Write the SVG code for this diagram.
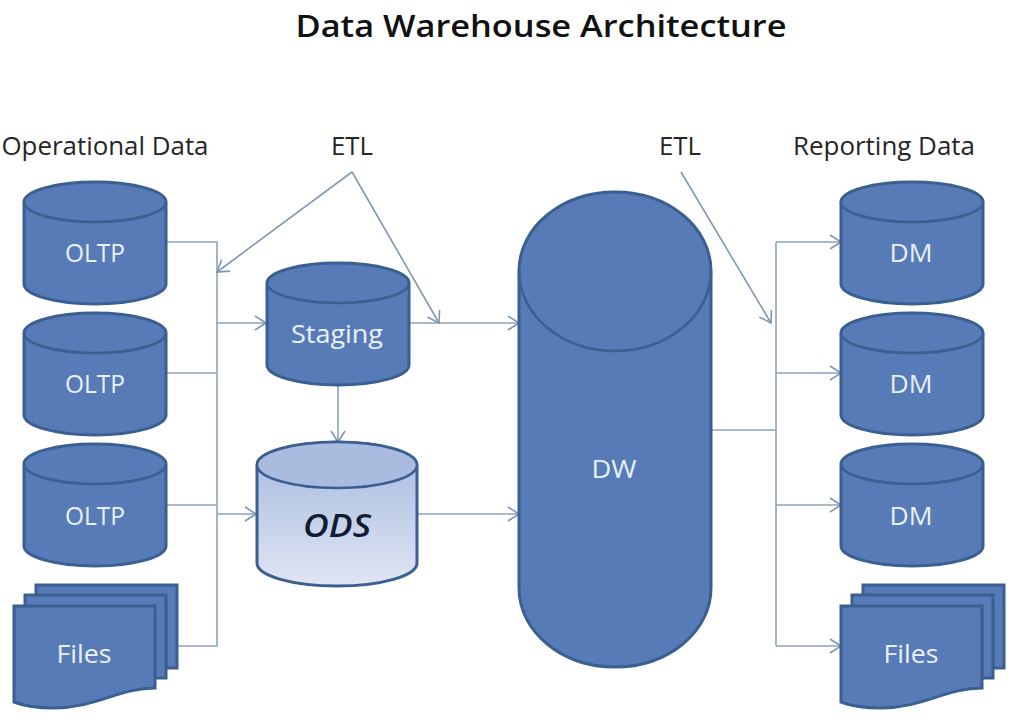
<svg xmlns="http://www.w3.org/2000/svg" width="1027" height="722" viewBox="0 0 1027 722">
<style>
text{font-family:"Open Sans","Noto Sans","Liberation Sans",sans-serif;text-anchor:middle}
.d{fill:#567bb7;stroke:#3a5f90;stroke-width:3}
.t{fill:none;stroke:#3a5f90;stroke-width:2.6}
.c{fill:none;stroke:#8ea3bb;stroke-width:1.6}
.a{marker-end:url(#arr)}
.e{fill:none;stroke:#8397b2;stroke-width:1.6;marker-end:url(#arr)}
.w{fill:#eaf0f7;font-size:26px}
.k{fill:#262626;font-size:25px}
</style>
<defs>
<marker id="arr" markerUnits="userSpaceOnUse" markerWidth="16" markerHeight="16" refX="13" refY="7" orient="auto" overflow="visible">
<path d="M2 0L13 7L2 14" fill="none" stroke="#7f96b4" stroke-width="1.6"/>
</marker>
<linearGradient id="ods" x1="0" y1="0" x2="0" y2="1"><stop offset="0" stop-color="#a5b9df"/><stop offset="1" stop-color="#e0e5f3"/></linearGradient>
<path id="cyl" d="M-71 -41V41C-71 52 -39 61 0 61S71 52 71 41V-41C71 -52 39 -61 0 -61S-71 -52 -71 -41Z" class="d"/>
<path id="cylt" d="M-71 -41C-71 -30 -39 -21 0 -21S71 -30 71 -41" class="t"/>
<g id="stack">
<path class="d" d="M22 0H163V83H152V20H22Z"/>
<path class="d" d="M11 10H152V93H141V30H11Z"/>
<path class="d" d="M0 21H141V103C105 103 82 123 40 123C25 123 10 121 0 117Z"/>
</g>
</defs>
<rect width="1027" height="722" fill="#fff"/>

<g id="connectors">
<path class="c" d="M166 242H217V646H177"/>
<path class="c" d="M166 373H216"/>
<path class="c" d="M166 505H216"/>
<path class="c a" d="M217 323H266"/>
<path class="c a" d="M217 514H256"/>
<path class="c a" d="M409 323H519"/>
<path class="c a" d="M338 385V442"/>
<path class="c a" d="M418 514H519"/>
<path class="c" d="M711 430H776"/>
<path class="c" d="M776 646V242"/>
<path class="c a" d="M776 242H841"/>
<path class="c a" d="M776 373H841"/>
<path class="c a" d="M776 505H841"/>
<path class="c a" d="M776 646H841"/>
<path class="e" d="M352 172L217 272"/>
<path class="e" d="M352 172L439 323"/>
<path class="e" d="M681 172L771 323"/>
</g>

<g id="title"><text x="541" y="37" font-size="31" font-weight="600" fill="#111" textLength="491" lengthAdjust="spacingAndGlyphs">Data Warehouse Architecture</text></g>
<g id="label-operational"><text class="k" x="105" y="155" textLength="207" lengthAdjust="spacingAndGlyphs">Operational Data</text></g>
<g id="label-etl-1"><text class="k" x="352" y="155" textLength="42" lengthAdjust="spacingAndGlyphs">ETL</text></g>
<g id="label-etl-2"><text class="k" x="680" y="155" textLength="42" lengthAdjust="spacingAndGlyphs">ETL</text></g>
<g id="label-reporting"><text class="k" x="884" y="155" textLength="182" lengthAdjust="spacingAndGlyphs">Reporting Data</text></g>

<g id="oltp-1"><use href="#cyl" x="95" y="243"/><use href="#cylt" x="95" y="243"/><text class="w" x="95" y="262" textLength="60" lengthAdjust="spacingAndGlyphs">OLTP</text></g>
<g id="oltp-2"><use href="#cyl" x="95" y="374"/><use href="#cylt" x="95" y="374"/><text class="w" x="95" y="393" textLength="60" lengthAdjust="spacingAndGlyphs">OLTP</text></g>
<g id="oltp-3"><use href="#cyl" x="95" y="505"/><use href="#cylt" x="95" y="505"/><text class="w" x="95" y="525" textLength="60" lengthAdjust="spacingAndGlyphs">OLTP</text></g>
<g id="files-left"><use href="#stack" x="14" y="585"/><text class="w" x="84" y="663" textLength="55" lengthAdjust="spacingAndGlyphs">Files</text></g>

<g id="staging"><use href="#cyl" x="338" y="324"/><use href="#cylt" x="338" y="324"/><text class="w" x="337" y="343" textLength="92" lengthAdjust="spacingAndGlyphs">Staging</text></g>

<g id="ods">
<path d="M257 465V563C257 576 293 586 337 586S417 576 417 563V465C417 452 381 442 337 442S257 452 257 465Z" fill="url(#ods)" stroke="#3a5f90" stroke-width="3"/>
<ellipse cx="337" cy="465" rx="80" ry="23" fill="#a9bce0" stroke="#3a5f90" stroke-width="2.6"/>
<text x="337" y="537" font-size="32" font-style="italic" font-weight="600" fill="#0f1c33" textLength="68" lengthAdjust="spacingAndGlyphs">ODS</text>
</g>

<g id="dw">
<path class="d" d="M519 271V588C519 632 562 667 615 667S711 632 711 588V271C711 227 668 192 615 192S519 227 519 271Z"/>
<path class="t" d="M519 271C519 315 562 351 615 351S711 315 711 271"/>
<text class="w" x="614" y="478" textLength="45" lengthAdjust="spacingAndGlyphs">DW</text>
</g>

<g id="dm-1"><use href="#cyl" x="912" y="243"/><use href="#cylt" x="912" y="243"/><text class="w" x="911" y="262" textLength="43" lengthAdjust="spacingAndGlyphs">DM</text></g>
<g id="dm-2"><use href="#cyl" x="912" y="374"/><use href="#cylt" x="912" y="374"/><text class="w" x="911" y="393" textLength="43" lengthAdjust="spacingAndGlyphs">DM</text></g>
<g id="dm-3"><use href="#cyl" x="912" y="505"/><use href="#cylt" x="912" y="505"/><text class="w" x="911" y="525" textLength="43" lengthAdjust="spacingAndGlyphs">DM</text></g>
<g id="files-right"><use href="#stack" x="841" y="585"/><text class="w" x="911" y="663" textLength="55" lengthAdjust="spacingAndGlyphs">Files</text></g>
</svg>
